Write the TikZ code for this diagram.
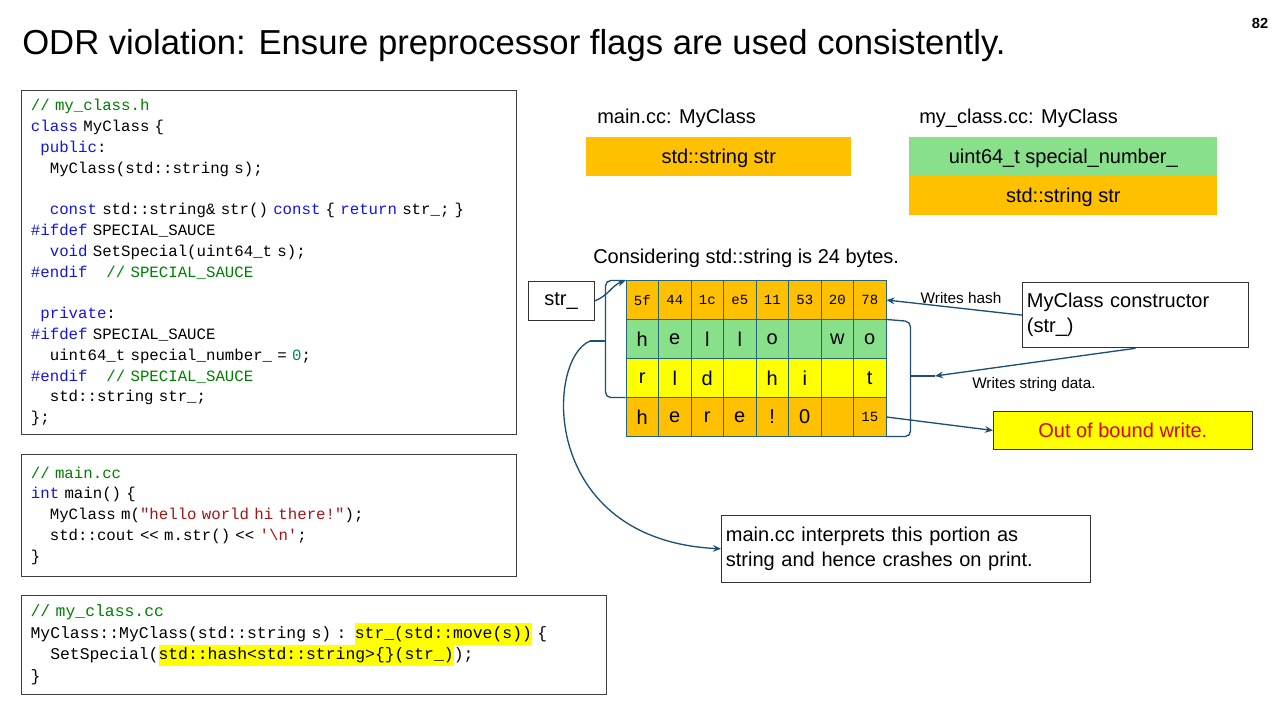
\documentclass[tikz,border=0pt]{standalone}
\usepackage{fontspec}
\setmainfont{Liberation Sans}
\newfontfamily\code{Liberation Mono}
\usetikzlibrary{arrows.meta}
\definecolor{kwblue}{RGB}{20,20,225}
\definecolor{cmgreen}{RGB}{0,128,0}
\definecolor{strred}{RGB}{163,21,21}
\definecolor{numteal}{RGB}{9,134,88}
\definecolor{cellor}{RGB}{255,192,0}
\definecolor{cellgr}{RGB}{136,224,138}
\definecolor{cellye}{RGB}{255,255,0}
\definecolor{edge}{RGB}{40,100,120}
\definecolor{arr}{RGB}{30,80,115}
\newcommand\kw[1]{\textcolor{kwblue}{#1}}
\newcommand\cm[1]{\textcolor{cmgreen}{#1}}
\newcommand\st[1]{\textcolor{strred}{#1}}
\newcommand\nm[1]{\textcolor{numteal}{#1}}
\newcommand\ind[1]{\hspace*{#1\dimexpr0.6em\relax}}
\newcommand\hl[1]{{\setlength{\fboxsep}{0pt}\colorbox{cellye}{\strut#1}}}
\begin{document}
\begin{tikzpicture}[x=0.75pt, y=-0.75pt,
                    >={Stealth[length=6pt,width=5pt]},
                    codebox/.style={draw=black!75, line width=0.9pt, anchor=north west, align=left, inner xsep=6.5pt, inner ysep=4pt, font=\fontsize{11.8}{15.6}\selectfont\code},
                    cell/.style={draw=edge, line width=0.7pt, minimum width=24.4pt, minimum height=28.6pt, inner sep=0pt, font=\fontsize{15}{18}\selectfont},
                    hexcell/.style={cell, font=\fontsize{10.5}{12}\selectfont\code},
                    field/.style={anchor=north west, minimum height=29pt, inner xsep=7pt, text depth=0pt, font=\fontsize{15}{18}\selectfont},
                    box/.style={draw=black!80, line width=0.7pt, align=left, anchor=north west, font=\fontsize{15}{18.5}\selectfont},
                    lbl/.style={font=\fontsize{11.5}{14}\selectfont},
                    conn/.style={->, draw=arr, line width=1pt},
                    brk/.style={draw=arr, line width=1pt, rounded corners=4pt}]
\useasboundingbox[fill=white] (0,0) rectangle (1280,720);

\node[anchor=base west, inner sep=0, font=\fontsize{26}{30}\selectfont] (title) at (22,55) {ODR violation: Ensure preprocessor flags are used consistently.};
\node[anchor=base, inner sep=0, font=\bfseries\fontsize{11}{13}\selectfont] (page) at (1260,29) {82};

% code on the left
\node[codebox, minimum width=371pt, minimum height=258pt, text width=357pt] (hdr) at (21,90) {%
\cm{// my\_class.h}\\
\kw{class} MyClass \{\\
\ind{1}\kw{public}:\\
\ind{2}MyClass(std::string s);\\
\mbox{}\\
\ind{2}\kw{const} std::string\& str() \kw{const} \{ \kw{return} str\_; \}\\
\kw{\#ifdef} SPECIAL\_SAUCE\\
\ind{2}\kw{void} SetSpecial(uint64\_t s);\\
\kw{\#endif}\ind{2}\cm{// SPECIAL\_SAUCE}\\
\mbox{}\\
\ind{1}\kw{private}:\\
\kw{\#ifdef} SPECIAL\_SAUCE\\
\ind{2}uint64\_t special\_number\_ = \nm{0};\\
\kw{\#endif}\ind{2}\cm{// SPECIAL\_SAUCE}\\
\ind{2}std::string str\_;\\
\};};

\node[codebox, minimum width=371pt, minimum height=91.5pt, text width=357pt] (mainsrc) at (21,454) {%
\cm{// main.cc}\\
\kw{int} main() \{\\
\ind{2}MyClass m(\st{"hello world hi there!"});\\
\ind{2}std::cout << m.str() << \st{'\textbackslash n'};\\
\}};

\node[codebox, minimum width=438.5pt, minimum height=74pt, text width=425pt, font=\fontsize{12.3}{16.2}\selectfont\code] (classsrc) at (21,595) {%
\cm{// my\_class.cc}\\
MyClass::MyClass(std::string s) : \hl{str\_(std::move(s))} \{\\
\ind{2}SetSpecial(\hl{std::hash<std::string>\{\}(str\_)});\\
\}};

% class layouts
\node[anchor=base west, inner sep=0, font=\fontsize{15}{18}\selectfont] (mainhd) at (597,124) {main.cc: MyClass};
\node[field, fill=cellor, minimum width=198.7pt] (mainstr) at (586,137) {std::string str};
\node[anchor=base west, inner sep=0, font=\fontsize{15}{18}\selectfont] (clshd) at (919,124) {my\_class.cc: MyClass};
\node[field, fill=cellgr, minimum width=231pt] (clsnum) at (909,137) {uint64\_t special\_number\_};
\node[field, fill=cellor, minimum width=231pt] (clsstr) at (909,176) {std::string str};

\node[anchor=base west, inner sep=0, font=\fontsize{15}{18}\selectfont] (note24) at (593,263) {Considering std::string is 24 bytes.};

% memory cells
\foreach \t [count=\i] in {5f,44,1c,e5,11,53,20,78}
  \node[hexcell, fill=cellor] (r1c\i) at ({642.25+(\i-1)*32.5},300) {\t};
\foreach \t [count=\i] in {h,e,l,l,o,{},w,o}
  \node[cell, fill=cellgr] (r2c\i) at ({642.25+(\i-1)*32.5},339) {\t};
\foreach \t [count=\i] in {r,l,d,{},h,i,{},t}
  \node[cell, fill=cellye] (r3c\i) at ({642.25+(\i-1)*32.5},378) {\t};
\foreach \t [count=\i] in {h,e,r,e,!,0,{}}
  \node[cell, fill=cellor] (r4c\i) at ({642.25+(\i-1)*32.5},417) {\t};
\node[hexcell, fill=cellor] (r4c8) at (869.75,417) {15};

\node[draw=black!80, line width=0.7pt, minimum width=49.5pt, minimum height=29pt, font=\fontsize{15}{18}\selectfont] (strptr) at (561,301) {str\_};

\node[box, text width=163pt, minimum height=49pt] (ctor) at (1022,282) {MyClass constructor\\(str\_)};
\node[draw=black!80, fill=cellye, line width=0.7pt, anchor=north west, minimum width=194pt, minimum height=28.5pt, inner xsep=7pt, font=\fontsize{15}{18}\selectfont, text=red!85!black] (oob) at (993,411) {Out of bound write.};
\node[box, text width=270pt, minimum height=50pt] (interp) at (721,515) {main.cc interprets this portion as\\string and hence crashes on print.};

% brackets
\coordinate (lbr) at (590,341);
\coordinate (rbr) at (935,376);
\draw[brk] (r3c1.south west) -- ++(-20,0) |- (r1c1.north west);
\draw[brk] (lbr) -- (606,341);
\draw[brk] (r2c8.north east) -- ++(24,2) |- (r4c8.south east);
\draw[brk] (910,376) -- (rbr);

% connectors
\draw[conn] (strptr.east) to[out=20,in=200] (r1c1.north west);
\draw[conn] (ctor.west) -- node[lbl, above, pos=0.45] (hashlbl) {Writes hash} (r1c8.east);
\draw[conn] (ctor.south) -- (rbr);
\node[lbl, anchor=base west, inner sep=0] (datalbl) at (972,388) {Writes string data.};
\draw[conn] (r4c8.east) -- (oob.west);
\draw[conn] (lbr) .. controls (545,360) and (540,540) .. (interp.west);
\end{tikzpicture}
\end{document}
